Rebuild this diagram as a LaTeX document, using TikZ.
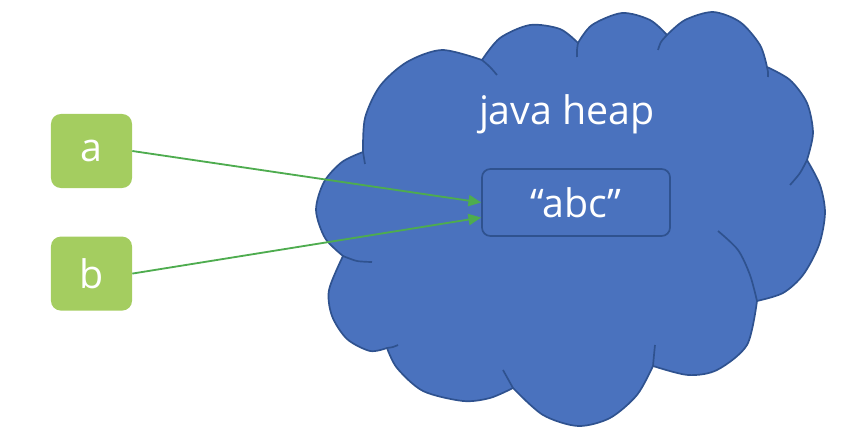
\documentclass[tikz,border=0pt]{standalone}
\usepackage{fontspec}
\setmainfont{Open Sans}
\usepackage{xcolor}
\usepackage{tikz}
\usetikzlibrary{positioning}
\usetikzlibrary{arrows.meta}
\definecolor{heapblue}{HTML}{4A72BE}
\definecolor{heapedge}{HTML}{2F528F}
\definecolor{refgreen}{HTML}{A4CD60}
\definecolor{arrowgreen}{HTML}{4EAC4F}

\begin{document}
\begin{tikzpicture}[x=0.025cm, y=-0.025cm,
cloudshape/.style={fill=heapblue, draw=heapedge, line width=1.2pt, line join=round},
cloudline/.style={draw=heapedge, line width=1.2pt},
refnode/.style={rectangle, rounded corners=7pt, fill=refgreen, text=white, minimum width=2.025cm, minimum height=1.85cm, font=\fontsize{28}{30}\selectfont},
stringnode/.style={rectangle, rounded corners=6pt, fill=heapblue, draw=heapedge, line width=1.2pt, text=white, minimum width=4.7cm, minimum height=1.675cm, font=\fontsize{28}{30}\selectfont},
labelnode/.style={text=white, font=\fontsize{28}{30}\selectfont},
pointer/.style={draw=arrowgreen, line width=1.3pt, -{Triangle[length=9pt, width=8pt, fill=arrowgreen]}},
]
\useasboundingbox (0,0) rectangle (844,438);

%Cloud
\draw[cloudshape] plot[smooth] coordinates {(363,152) (365,118) (380,86) (407,62) (442,50) (482,60)}
 -- plot[smooth] coordinates {(482,60) (500,38) (530,25) (560,29) (578,43)}
 -- plot[smooth] coordinates {(578,43) (592,25) (622,13) (650,20) (667,35)}
 -- plot[smooth] coordinates {(667,35) (685,20) (713,12) (740,22) (760,45) (767,67)}
 -- plot[smooth] coordinates {(767,67) (790,80) (807,103) (813,133) (807,160)}
 -- plot[smooth] coordinates {(807,160) (820,185) (825,213) (819,245) (803,275) (783,293) (757,301)}
 -- plot[smooth] coordinates {(757,301) (747,345) (717,370) (688,375) (653,366)}
 -- plot[smooth] coordinates {(653,366) (637,395) (610,418) (578,426) (543,415) (513,388)}
 -- plot[smooth] coordinates {(513,388) (490,398) (463,401) (423,391) (397,368) (387,348)}
 -- plot[smooth] coordinates {(387,348) (370,351) (347,339) (332,316) (329,290) (343,256)}
 -- plot[smooth] coordinates {(343,256) (325,238) (316,210) (324,182) (342,162) (363,152)}
 -- cycle;

%Cloud inner arcs
\draw[cloudline] plot[smooth] coordinates {(363,152) (364,158) (365,164)};
\draw[cloudline] plot[smooth] coordinates {(482,60) (490,67) (497,75)};
\draw[cloudline] plot[smooth] coordinates {(578,43) (577,50) (577,57)};
\draw[cloudline] plot[smooth] coordinates {(667,35) (661,42) (658,50)};
\draw[cloudline] plot[smooth] coordinates {(767,67) (768,72) (768,77)};
\draw[cloudline] plot[smooth] coordinates {(807,160) (800,173) (790,185)};
\draw[cloudline] plot[smooth] coordinates {(757,301) (750,275) (738,250) (718,231)};
\draw[cloudline] plot[smooth] coordinates {(653,366) (654,355) (655,345)};
\draw[cloudline] plot[smooth] coordinates {(513,388) (508,379) (503,370)};
\draw[cloudline] plot[smooth] coordinates {(387,348) (393,347) (398,345)};
\draw[cloudline] plot[smooth] coordinates {(343,256) (357,261) (372,262)};

%Nodes
\node[refnode]		(vara)		at (91.5,151)			{a};
\node[refnode]		(varb)		[below=1.2cm of vara]	{b};
\node[stringnode]	(strobj)	at (576,202.5)			{“abc”};
\node[labelnode]	(heaplabel)	at (567,114)			{java heap};

%Lines
\draw[pointer] (vara.east) -- (strobj.west);
\draw[pointer] (varb.east) -- (strobj.189);
\end{tikzpicture}
\end{document}
